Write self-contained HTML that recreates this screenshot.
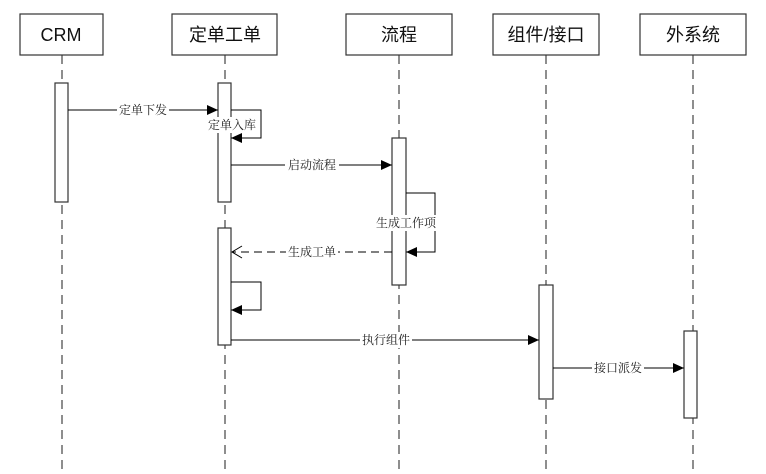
<!DOCTYPE html><html><head><meta charset="utf-8"><style>body{margin:0;background:#fff}svg{display:block}</style></head><body>
<svg width="766" height="474" xmlns="http://www.w3.org/2000/svg" font-family="'Liberation Serif','Noto Serif CJK SC','Noto Sans CJK SC',serif">
<defs>
<marker id="a" markerWidth="12" markerHeight="10" refX="11" refY="5" orient="auto" markerUnits="userSpaceOnUse"><path d="M0,0 L11,5 L0,10z" fill="#000"/></marker>
<marker id="o" markerWidth="12" markerHeight="14" refX="11" refY="7" orient="auto" markerUnits="userSpaceOnUse"><path d="M1,1 L11,7 L1,13" fill="none" stroke="#000"/></marker>
</defs>
<g stroke="#444" stroke-width="1.2" stroke-dasharray="9,6">
<line x1="62" y1="55" x2="62" y2="474"/><line x1="225" y1="55" x2="225" y2="474"/><line x1="399" y1="55" x2="399" y2="474"/><line x1="546" y1="55" x2="546" y2="474"/><line x1="693" y1="55" x2="693" y2="474"/>
</g>
<g fill="#fff" stroke="#333" stroke-width="1.2">
<rect x="20" y="14" width="83" height="41"/><rect x="172" y="14" width="105" height="41"/><rect x="346" y="14" width="106" height="41"/><rect x="493" y="14" width="106" height="41"/><rect x="640" y="14" width="106" height="41"/>
<rect x="55" y="83" width="13" height="119"/><rect x="218" y="83" width="13" height="119"/><rect x="218" y="228" width="13" height="117"/><rect x="392" y="138" width="14" height="147"/><rect x="539" y="285" width="14" height="114"/><rect x="684" y="331" width="13" height="87"/>
</g>
<g font-size="18" text-anchor="middle" fill="#111" font-family="'Liberation Sans Narrow','Liberation Sans','Noto Sans CJK SC',sans-serif">
<text x="61" y="41">CRM</text><text x="225" y="41">定单工单</text><text x="399" y="41">流程</text><text x="546" y="41">组件/接口</text><text x="693" y="41">外系统</text>
</g>
<g stroke="#000" stroke-width="1" fill="none">
<line x1="68" y1="110" x2="218" y2="110" marker-end="url(#a)"/>
<polyline points="231,110 261,110 261,138 231,138" marker-end="url(#a)"/>
<line x1="231" y1="165" x2="392" y2="165" marker-end="url(#a)"/>
<polyline points="406,193 435,193 435,252 406,252" marker-end="url(#a)"/>
<line x1="392" y1="252" x2="232" y2="252" stroke-dasharray="8,5" marker-end="url(#o)"/>
<polyline points="231,282 261,282 261,310 231,310" marker-end="url(#a)"/>
<line x1="231" y1="340" x2="539" y2="340" marker-end="url(#a)"/>
<line x1="553" y1="368" x2="684" y2="368" marker-end="url(#a)"/>
</g>
<g font-size="12" text-anchor="middle" fill="#222">
<rect x="117" y="102" width="52" height="16" fill="#fff"/><text x="143" y="114">定单下发</text>
<rect x="206" y="117" width="52" height="16" fill="#fff"/><text x="232" y="129">定单入库</text>
<rect x="285" y="157" width="54" height="16" fill="#fff"/><text x="312" y="169">启动流程</text>
<rect x="373" y="215" width="66" height="16" fill="#fff"/><text x="406" y="227">生成工作项</text>
<rect x="286" y="244" width="52" height="16" fill="#fff"/><text x="312" y="256">生成工单</text>
<rect x="360" y="332" width="52" height="16" fill="#fff"/><text x="386" y="344">执行组件</text>
<rect x="592" y="360" width="52" height="16" fill="#fff"/><text x="618" y="372">接口派发</text>
</g>
</svg>
</body></html>
